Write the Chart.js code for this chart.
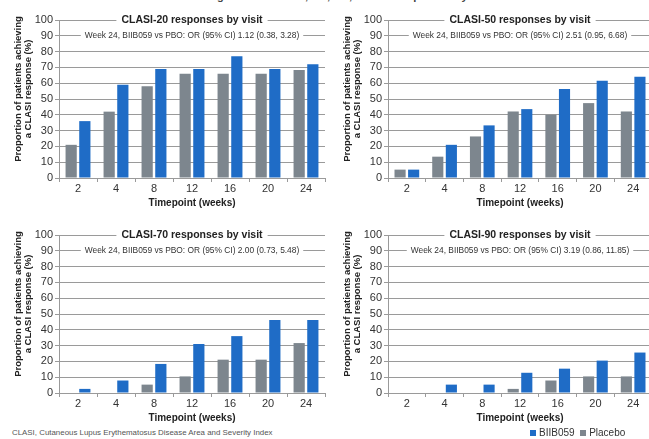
<!DOCTYPE html>
<html>
<head>
<meta charset="utf-8">
<script src="https://cdn.jsdelivr.net/npm/chart.js@4.4.0/dist/chart.umd.min.js"></script>
<style>
  body { margin: 0; width: 649px; height: 439px; overflow: hidden; background: #fff; position: relative;
         font-family: "Liberation Sans", Arial, sans-serif; }
  .panel { position: absolute; }
  #fig { position: absolute; left: 0; width: 700px; top: -10px; text-align: center; font-weight: bold; font-size: 11px; color: #444; white-space: nowrap; }
  #foot { position: absolute; left: 12px; top: 428px; font-size: 7.9px; color: #555; white-space: nowrap; }
  #legend { position: absolute; left: 530px; top: 427px; font-size: 10px; color: #333; white-space: nowrap; }
  #legend span.sw { display: inline-block; width: 6px; height: 6px; margin-right: 3px; }
</style>
</head>
<body>
<div id="fig">Figure 2. CLASI-20, -50, -70, and -90 responses by visit</div>
<canvas id="c20" class="panel" style="left:0;top:0" width="330" height="209"></canvas>
<canvas id="c50" class="panel" style="left:320px;top:0" width="332" height="209"></canvas>
<canvas id="c70" class="panel" style="left:0;top:215px" width="330" height="209"></canvas>
<canvas id="c90" class="panel" style="left:320px;top:215px" width="332" height="209"></canvas>
<div id="foot">CLASI, Cutaneous Lupus Erythematosus Disease Area and Severity Index</div>
<div id="legend"><span class="sw" style="background:#1f6cc6"></span>BIIB059&nbsp;&nbsp;<span class="sw" style="background:#7d868e"></span>Placebo</div>
<script>
// timepoints and y ticks
const weeks  = ['2', '4', '8', '12', '16', '20', '24'];
const yTicks = [0, 10, 20, 30, 40, 50, 60, 70, 80, 90, 100];

// % of patients achieving response
const clasi20Placebo = [21, 42, 58, 66, 66, 66, 68.4];
const clasi20Biib    = [36, 59, 69, 69, 77, 69, 72];
const clasi50Placebo = [5.3, 13.5, 26.3, 42.1, 40, 47.4, 42.1];
const clasi50Biib    = [5.3, 21, 33.3, 43.6, 56.4, 61.5, 64.1];
const clasi70Placebo = [0, 0, 5.3, 10.5, 21.1, 21.1, 31.6];
const clasi70Biib    = [2.6, 7.9, 18.4, 31, 36, 46.2, 46.2];
const clasi90Placebo = [0, 0, 0, 2.6, 7.9, 10.5, 10.5];
const clasi90Biib    = [0, 5.3, 5.3, 12.8, 15.4, 20.5, 25.6];

const titles = ['CLASI-20 responses by visit', 'CLASI-50 responses by visit',
                'CLASI-70 responses by visit', 'CLASI-90 responses by visit'];
const notes  = ['Week 24, BIIB059 vs PBO: OR (95% CI) 1.12 (0.38, 3.28)',
                'Week 24, BIIB059 vs PBO: OR (95% CI) 2.51 (0.95, 6.68)',
                'Week 24, BIIB059 vs PBO: OR (95% CI) 2.00 (0.73, 5.48)',
                'Week 24, BIIB059 vs PBO: OR (95% CI) 3.19 (0.86, 11.85)'];
const yTitle = ['Proportion of patients achieving', 'a CLASI response (%)'];

const FONT  = '"Liberation Sans", Arial, sans-serif';
const BLUE  = '#1f6cc6';
const GREY  = '#7d868e';
const GRID  = '#9a9a9a';

// title + note sitting on the 100 / 90 gridlines, white box behind
function boxedText(ctx, text, x, y, font, pad, color) {
  ctx.save();
  ctx.font = font;
  const w = ctx.measureText(text).width;
  ctx.fillStyle = '#fff';
  ctx.fillRect(x - w / 2 - pad, y - 6, w + pad * 2, 12);
  ctx.fillStyle = color;
  ctx.textAlign = 'center';
  ctx.textBaseline = 'middle';
  ctx.fillText(text, x, y);
  ctx.restore();
}

const panelTitle = {
  id: 'panelTitle',
  afterDraw(chart, args, opts) {
    const { ctx, chartArea, scales } = chart;
    const cx = (chartArea.left + chartArea.right) / 2;
    boxedText(ctx, opts.title, cx, scales.y.getPixelForValue(100), 'bold 10.5px ' + FONT, 5, '#222');
    boxedText(ctx, opts.note,  cx, scales.y.getPixelForValue(90),  '8.4px ' + FONT, 4, '#333');

    // rotated two-line y title, a bit above the middle like the source
    ctx.save();
    ctx.font = 'bold 9.5px ' + FONT;
    ctx.fillStyle = '#222';
    ctx.textAlign = 'center';
    ctx.textBaseline = 'middle';
    yTitle.forEach((line, i) => {
      ctx.save();
      ctx.translate(chartArea.left - 41 + i * 10, chartArea.top + 69);
      ctx.rotate(-Math.PI / 2);
      ctx.fillText(line, 0, 0);
      ctx.restore();
    });
    ctx.restore();
  }
};

function makePanel(id, placebo, biib, idx, yWidth, padRight) {
  new Chart(document.getElementById(id), {
    type: 'bar',
    data: {
      labels: weeks,
      datasets: [
        { label: 'Placebo', data: placebo, backgroundColor: GREY },
        { label: 'BIIB059', data: biib,    backgroundColor: BLUE }
      ]
    },
    options: {
      responsive: false,
      animation: false,
      layout: { padding: { top: 20, right: padRight, bottom: 0, left: 0 } },
      datasets: { bar: { categoryPercentage: 0.72, barPercentage: 0.82 } },
      plugins: {
        legend: { display: false },
        tooltip: { enabled: false },
        panelTitle: { title: titles[idx], note: notes[idx] }
      },
      scales: {
        x: {
          grid: { display: true, drawOnChartArea: false, color: GRID, tickLength: 4 },
          border: { color: GRID },
          ticks: { color: '#333', font: { family: FONT, size: 11 }, padding: 0 },
          title: { display: true, text: 'Timepoint (weeks)', color: '#222',
                   font: { family: FONT, size: 10, weight: 'bold' }, padding: { top: 1, bottom: 0 } },
          afterFit(s) { s.height = 31; }
        },
        y: {
          min: 0, max: 100,
          afterBuildTicks(s) { s.ticks = yTicks.map(v => ({ value: v })); },
          grid: { color: GRID, tickLength: 4 },
          border: { color: GRID },
          ticks: { color: '#333', font: { family: FONT, size: 11 }, padding: 2, autoSkip: false },
          afterFit(s) { s.width = yWidth; }
        }
      }
    },
    plugins: [panelTitle]
  });
}

makePanel('c20', clasi20Placebo, clasi20Biib, 0, 59, 5);
makePanel('c50', clasi50Placebo, clasi50Biib, 1, 68, 0);
makePanel('c70', clasi70Placebo, clasi70Biib, 2, 59, 5);
makePanel('c90', clasi90Placebo, clasi90Biib, 3, 68, 0);
</script>
</body>
</html>
